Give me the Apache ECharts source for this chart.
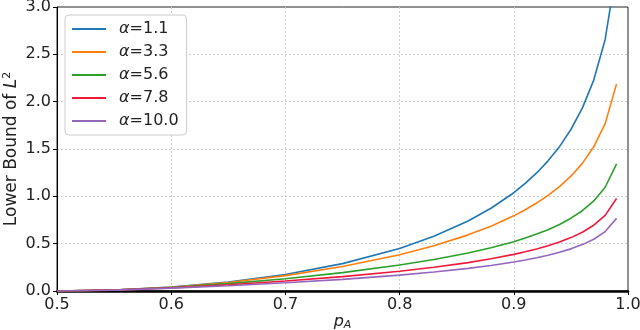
<!DOCTYPE html>
<html>
<head>
<meta charset="utf-8">
<script src="https://cdn.jsdelivr.net/npm/echarts@6/dist/echarts.min.js"></script>
<style>
  html, body { margin: 0; padding: 0; background: #fff; }
  #chart { width: 640px; height: 330px; }
</style>
</head>
<body>
<div id="chart"></div>
<script>
// p_A values (x axis)
var pA = [0.5, 0.55, 0.6, 0.65, 0.7, 0.75, 0.8, 0.83, 0.86, 0.88, 0.9, 0.91, 0.92, 0.93, 0.94, 0.95, 0.96, 0.97, 0.98, 0.99];

// lower bound of L^2 for each alpha
var alpha11 = [0, 0.010, 0.041, 0.094, 0.175, 0.289, 0.449, 0.578, 0.739, 0.874, 1.038, 1.136, 1.247, 1.375, 1.525, 1.706, 1.932, 2.228, 2.657, 3.411];
var alpha33 = [0, 0.010, 0.040, 0.090, 0.162, 0.258, 0.383, 0.478, 0.593, 0.685, 0.794, 0.858, 0.929, 1.010, 1.103, 1.213, 1.348, 1.523, 1.768, 2.188];
var alpha56 = [0, 0.010, 0.037, 0.078, 0.130, 0.194, 0.274, 0.332, 0.401, 0.456, 0.521, 0.559, 0.601, 0.648, 0.703, 0.769, 0.848, 0.951, 1.096, 1.343];
var alpha78 = [0, 0.009, 0.033, 0.066, 0.105, 0.152, 0.209, 0.251, 0.300, 0.340, 0.387, 0.414, 0.444, 0.478, 0.518, 0.564, 0.621, 0.695, 0.799, 0.977];
var alpha100 = [0, 0.009, 0.030, 0.056, 0.087, 0.123, 0.168, 0.200, 0.239, 0.270, 0.306, 0.328, 0.351, 0.378, 0.409, 0.445, 0.490, 0.547, 0.628, 0.767];

var seriesNames = ['α=1.1', 'α=3.3', 'α=5.6', 'α=7.8', 'α=10.0'];
var seriesData = [alpha11, alpha33, alpha56, alpha78, alpha100];
var colors = ['#1f77b4', '#ff7f0e', '#2ca02c', '#f0193c', '#9467bd'];

var font = 'DejaVu Sans';

function pairs(ys) {
  var out = [];
  for (var i = 0; i < pA.length; i++) {
    out.push([pA[i], ys[i]]);
  }
  return out;
}

var series = [];
for (var k = 0; k < seriesNames.length; k++) {
  series.push({
    name: seriesNames[k],
    type: 'line',
    data: pairs(seriesData[k]),
    symbol: 'none',
    lineStyle: { width: 1.6, color: colors[k] },
    itemStyle: { color: colors[k] },
    clip: true,
    z: 3
  });
}

var chart = echarts.init(document.getElementById('chart'), null, { renderer: 'canvas' });

var option = {
  backgroundColor: '#ffffff',
  animation: false,
  color: colors,
  grid: {
    left: 57, right: 12, top: 7, bottom: 39,
    containLabel: false,
    outerBoundsMode: 'none',
    show: true, borderColor: '#222', borderWidth: 1
  },
  legend: {
    orient: 'vertical',
    left: 65, top: 15,
    icon: 'rect',
    itemWidth: 34, itemHeight: 2,
    itemGap: 7,
    padding: [6, 8, 6, 7],
    backgroundColor: '#fff',
    borderColor: '#cccccc',
    borderWidth: 1,
    borderRadius: 4,
    formatter: function (name) {
      return '{i|α}{t|' + name.slice(1) + '}';
    },
    textStyle: {
      fontFamily: font,
      fontSize: 16,
      color: '#222',
      rich: {
        i: { fontFamily: font, fontStyle: 'italic', fontSize: 16, color: '#222', padding: [0, 0, 0, 8] },
        t: { fontFamily: font, fontSize: 16, color: '#222' }
      }
    }
  },
  xAxis: {
    type: 'value',
    min: 0.5, max: 1.0, interval: 0.1,
    name: '{i|p}{s|A}',
    nameLocation: 'middle',
    nameMoveOverlap: false,
    nameGap: 21,
    nameTextStyle: {
      rich: {
        i: { fontFamily: font, fontStyle: 'italic', fontSize: 16, color: '#222' },
        s: { fontFamily: font, fontStyle: 'italic', fontSize: 11, color: '#222', padding: [8, 0, 0, 0] }
      }
    },
    axisLine: { show: true, onZero: false, lineStyle: { color: '#000', width: 2.5 } },
    axisTick: { show: true, length: 4, lineStyle: { color: '#000' } },
    axisLabel: {
      fontFamily: font, fontSize: 16, color: '#222', margin: 6,
      formatter: function (v) { return v.toFixed(1); }
    },
    splitLine: { show: true, showMinLine: false, showMaxLine: false, lineStyle: { color: '#cccccc', type: [2, 2], width: 1 } }
  },
  yAxis: {
    type: 'value',
    min: 0, max: 3.0, interval: 0.5,
    name: '{t|Lower Bound of }{i|L}{s|2}',
    nameLocation: 'middle',
    nameRotate: 90,
    nameMoveOverlap: false,
    nameGap: 35,
    nameTextStyle: {
      rich: {
        t: { fontFamily: font, fontSize: 17, color: '#222' },
        i: { fontFamily: font, fontStyle: 'italic', fontSize: 17, color: '#222' },
        s: { fontFamily: font, fontSize: 11, color: '#222', padding: [0, 0, 9, 0] }
      }
    },
    axisLine: { show: true, lineStyle: { color: '#000', width: 1 } },
    axisTick: { show: true, length: 4, lineStyle: { color: '#000' } },
    axisLabel: {
      fontFamily: font, fontSize: 16, color: '#222', margin: 6,
      formatter: function (v) { return v.toFixed(1); }
    },
    splitLine: { show: true, showMinLine: false, showMaxLine: false, lineStyle: { color: '#cccccc', type: [2, 2], width: 1 } }
  },
  series: series
};

chart.setOption(option);
</script>
</body>
</html>
